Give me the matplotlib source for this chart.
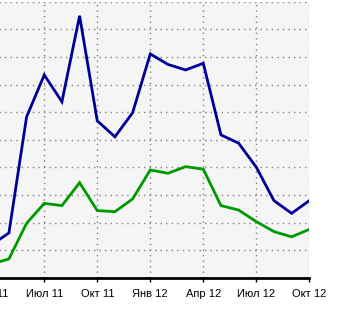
import matplotlib

matplotlib.use("Agg")
import matplotlib.pyplot as plt
import numpy as np

months = ["Апр 11", "Май 11", "Июн 11", "Июл 11", "Авг 11", "Сен 11", "Окт 11",
          "Ноя 11", "Дек 11", "Янв 12", "Фев 12", "Мар 12", "Апр 12", "Май 12",
          "Июн 12", "Июл 12", "Авг 12", "Сен 12", "Окт 12"]
blue_values = [11.9, 16.3, 58.3, 73.5, 63.8, 94.9, 56.9, 51.1, 59.8, 81.1,
               77.3, 75.3, 77.7, 51.8, 48.8, 40.1, 28.0, 23.4, 28.0]
green_values = [5.0, 6.9, 19.8, 27.0, 26.2, 34.5, 24.4, 24.0, 28.6, 39.1,
                37.9, 40.3, 39.4, 26.2, 24.6, 20.4, 16.8, 14.9, 17.6]
tick_labels = ["Апр 11", "Июл 11", "Окт 11", "Янв 12", "Апр 12", "Июл 12", "Окт 12"]

W, H = 340, 316
fig = plt.figure(figsize=(W / 100, H / 100), dpi=100)

# plot area: Oct 12 sits on the right edge, left part is cut off by the crop
step = 17.67
x_right = 309.3
x_left = x_right - 19 * step
y_top, y_bottom = 1.7, 278.0
ax = fig.add_axes([x_left / W, 1 - y_bottom / H, (x_right - x_left) / W, (y_bottom - y_top) / H])
ax.set_facecolor("#f5f5f5")

x = np.arange(len(months))
ax.plot(x, blue_values, color="#000099", linewidth=2.0, solid_joinstyle="miter")
ax.plot(x, green_values, color="#009900", linewidth=2.0, solid_joinstyle="miter")

ax.set_xlim(-1, len(months) - 1)
ax.set_ylim(0, 100)
ax.set_yticks(np.arange(0, 101, 10))
ax.set_yticklabels([])
tick_pos = [months.index(t) for t in tick_labels]
ax.set_xticks(tick_pos)
ax.set_xticklabels(tick_labels, fontsize=8, family=["Liberation Sans", "DejaVu Sans"])
ax.tick_params(axis="y", length=0)
ax.tick_params(axis="x", length=3.2, width=1, direction="out", pad=4.5, colors="black")
ax.grid(True, color="#808080", linestyle=(0, (1, 3)), linewidth=1)
ax.set_axisbelow(True)

for side in ("top", "right", "left"):
    ax.spines[side].set_visible(False)
ax.spines["bottom"].set_linewidth(2)
ax.spines["bottom"].set_color("black")

fig.savefig("out.png", dpi=100)
